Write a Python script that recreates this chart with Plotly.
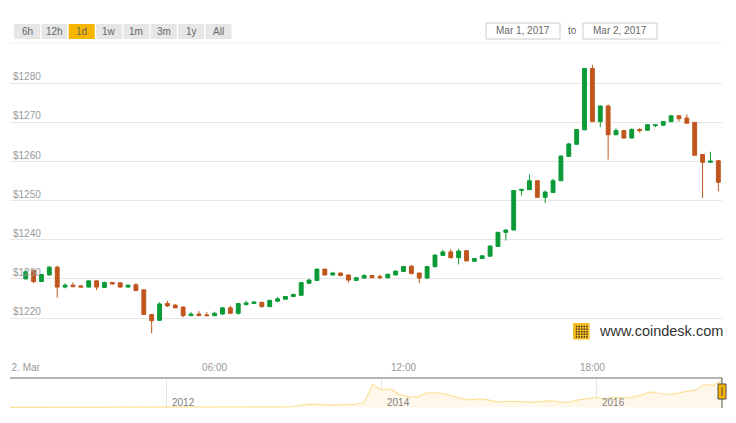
import plotly.graph_objects as go
import pandas as pd

# ---------------- data ----------------
candle_start = "2017-03-02 00:00"
candle_step = "15min"
candle_open = [
    1230.0, 1232.2, 1229.3, 1231.0, 1233.0, 1227.9, 1228.4, 1228.2, 1227.9, 1229.5,
    1227.8, 1229.1, 1229.0, 1227.9, 1228.5, 1227.2, 1220.9, 1219.4, 1223.7, 1223.3,
    1222.8, 1220.6, 1221.0, 1220.8, 1220.6, 1221.0, 1222.6, 1221.2, 1223.4, 1223.7,
    1224.0, 1222.9, 1224.3, 1224.8, 1225.5, 1225.8, 1228.9, 1229.6, 1232.5, 1231.0,
    1231.5, 1231.0, 1229.6, 1230.2, 1230.85, 1230.6, 1230.3, 1231.0, 1231.9, 1233.25,
    1231.5, 1230.2, 1233.1, 1236.0, 1236.9, 1235.4, 1237.2, 1234.5, 1235.2, 1235.8,
    1238.3, 1241.9, 1242.5, 1252.6, 1252.8, 1255.1, 1250.85, 1252.1, 1255.1, 1261.3,
    1264.4, 1268.1, 1283.8, 1270.2, 1274.2, 1266.85, 1267.95, 1266.0, 1268.2, 1268.0,
    1269.15, 1269.3, 1270.2, 1271.7, 1271.1, 1270.0, 1261.8, 1259.8, 1260.2,
]
candle_high = [
    1232.3, 1232.3, 1231.3, 1233.3, 1233.4, 1228.9, 1229.1, 1228.4, 1229.6, 1229.6,
    1229.3, 1229.2, 1229.1, 1228.5, 1228.9, 1227.3, 1221.0, 1224.0, 1224.4, 1223.6,
    1222.9, 1221.5, 1221.8, 1221.5, 1221.6, 1222.7, 1223.1, 1223.8, 1224.4, 1224.3,
    1224.2, 1224.7, 1225.4, 1225.6, 1226.3, 1229.2, 1230.0, 1232.6, 1232.6, 1231.8,
    1231.6, 1231.1, 1230.4, 1231.2, 1230.95, 1231.1, 1231.3, 1232.1, 1233.2, 1233.5,
    1231.6, 1233.2, 1236.2, 1237.4, 1237.6, 1237.7, 1237.4, 1235.3, 1236.0, 1238.5,
    1242.0, 1242.6, 1252.7, 1253.0, 1256.7, 1255.2, 1252.6, 1255.6, 1261.5, 1264.8,
    1268.3, 1283.9, 1284.7, 1274.3, 1274.6, 1268.5, 1268.0, 1268.5, 1268.5, 1269.5,
    1269.5, 1270.3, 1271.8, 1271.8, 1272.05, 1270.1, 1261.9, 1262.5, 1260.3,
]
candle_low = [
    1229.8, 1228.9, 1229.2, 1230.9, 1225.2, 1227.6, 1227.9, 1227.8, 1227.8, 1227.1,
    1227.7, 1228.5, 1227.8, 1227.8, 1226.9, 1220.8, 1216.1, 1219.3, 1222.8, 1222.5,
    1220.2, 1220.5, 1220.5, 1220.5, 1220.5, 1220.9, 1221.1, 1220.85, 1223.3, 1223.6,
    1222.7, 1222.8, 1224.1, 1224.7, 1225.4, 1225.7, 1228.8, 1229.5, 1230.9, 1230.9,
    1230.7, 1229.05, 1229.5, 1230.1, 1230.2, 1229.9, 1230.05, 1230.9, 1231.8, 1231.1,
    1228.9, 1230.1, 1233.0, 1235.9, 1235.3, 1233.7, 1234.5, 1234.4, 1235.1, 1235.7,
    1238.2, 1239.8, 1242.4, 1251.3, 1252.7, 1250.7, 1249.4, 1252.0, 1255.0, 1261.2,
    1264.3, 1268.0, 1270.1, 1268.8, 1260.5, 1266.7, 1265.9, 1265.9, 1267.4, 1267.9,
    1268.8, 1269.0, 1270.1, 1270.25, 1269.7, 1261.5, 1250.7, 1259.7, 1252.4,
]
candle_close = [
    1231.8, 1229.3, 1231.1, 1233.0, 1227.9, 1228.4, 1228.0, 1227.9, 1229.5, 1227.9,
    1229.1, 1228.7, 1227.9, 1228.4, 1227.0, 1220.9, 1219.3, 1223.6, 1223.1, 1222.6,
    1220.6, 1221.0, 1220.6, 1220.6, 1221.2, 1222.6, 1221.2, 1223.7, 1223.85, 1224.1,
    1222.9, 1224.5, 1224.9, 1225.5, 1226.0, 1229.05, 1229.7, 1232.5, 1231.0, 1231.5,
    1230.85, 1229.7, 1230.3, 1230.85, 1230.3, 1230.3, 1231.2, 1232.0, 1233.15, 1231.4,
    1230.2, 1233.15, 1236.1, 1236.9, 1235.4, 1237.1, 1234.6, 1235.2, 1235.9, 1238.4,
    1241.9, 1242.5, 1252.6, 1252.9, 1255.1, 1250.85, 1252.2, 1255.1, 1261.4, 1264.5,
    1268.2, 1283.8, 1270.2, 1274.2, 1266.85, 1267.95, 1266.0, 1268.2, 1267.9, 1269.4,
    1269.4, 1270.25, 1271.7, 1270.95, 1269.8, 1261.6, 1259.8, 1260.1, 1254.7,
]

y_tick_values = [1220, 1230, 1240, 1250, 1260, 1270, 1280]
y_tick_labels = ["$1220", "$1230", "$1240", "$1250", "$1260", "$1270", "$1280"]
x_tick_values = ["2017-03-02 00:00", "2017-03-02 06:00", "2017-03-02 12:00", "2017-03-02 18:00"]
x_tick_labels = ["2. Mar", "06:00", "12:00", "18:00"]
x_view = ["2017-03-01 23:30", "2017-03-02 22:07"]

# navigator: month-start prices, 2010-07 .. 2017-03, plus the last point
nav_start = "2010-07-01"
nav_values = [
    0.05, 0.07, 0.06, 0.06, 0.19, 0.21,
    0.30, 0.9, 0.86, 0.78, 3.5, 8.7, 16.1, 13.4, 8.2, 5.1, 3.2, 2.9,
    4.7, 5.5, 4.9, 4.9, 5.0, 5.1, 6.7, 9.1, 10.1, 12.4, 11.2, 12.6,
    13.5, 20.4, 33.4, 93, 139, 128, 97, 106, 135, 133, 200, 1000,
    770, 800, 560, 470, 450, 630, 640, 590, 480, 380, 325, 380,
    315, 225, 260, 245, 235, 225, 260, 280, 230, 238, 325, 378,
    432, 375, 435, 416, 450, 535, 675, 620, 575, 610, 700, 745,
    1000, 970, 1190,
]
nav_last_date = "2017-03-02"
nav_last_value = 1255
nav_view = ["2010-07-17", "2017-03-02"]
nav_year_ticks = ["2012-01-01", "2014-01-01", "2016-01-01"]
nav_year_labels = ["2012", "2014", "2016"]

range_buttons = ["6h", "12h", "1d", "1w", "1m", "3m", "1y", "All"]
selected_button = "1d"
date_from = "Mar 1, 2017"
date_to = "Mar 2, 2017"
brand_text = "www.coindesk.com"

# ---------------- geometry ----------------
W, H = 736, 423
ML, MR, MT, MB = 10, 14, 48, 15
PW, PH = W - ML - MR, H - MT - MB
MAIN_BOTTOM = 352
NAV_TOP = 378


def px(X):
    return (X - ML) / PW


def py(Y):
    return (H - MB - Y) / PH


FONT = "Liberation Sans, Arial, sans-serif"
GREEN = "#0a9b37"
ORANGE = "#c0561d"

times = pd.date_range(candle_start, periods=len(candle_open), freq=candle_step)
nav_dates = list(pd.date_range(nav_start, periods=len(nav_values), freq="MS")) + [pd.Timestamp(nav_last_date)]
nav_y = nav_values + [nav_last_value]

fig = go.Figure()
fig.add_trace(go.Candlestick(
    x=times, open=candle_open, high=candle_high, low=candle_low, close=candle_close,
    increasing=dict(fillcolor=GREEN, line=dict(color=GREEN, width=1)),
    decreasing=dict(fillcolor=ORANGE, line=dict(color=ORANGE, width=1)),
    whiskerwidth=0, showlegend=False, hoverinfo="skip",
))
fig.add_trace(go.Scatter(
    x=nav_dates, y=nav_y, xaxis="x2", yaxis="y2", mode="lines",
    line=dict(color="#fce19a", width=1.2), fill="tozeroy", fillcolor="#fff8ea",
    showlegend=False, hoverinfo="skip",
))

shapes = []
annotations = []

# y-axis labels above gridlines
for v, t in zip(y_tick_values, y_tick_labels):
    annotations.append(dict(x=0, xref="paper", y=v, yref="y", text=t, showarrow=False,
                            xanchor="left", yanchor="bottom", xshift=1, yshift=-1,
                            font=dict(family=FONT, size=10, color="#999999")))

# navigator year labels
for d, t in zip(nav_year_ticks, nav_year_labels):
    annotations.append(dict(x=d, xref="x2", y=py(402), yref="paper", text=t, showarrow=False,
                            xanchor="left", yanchor="middle", xshift=3,
                            font=dict(family=FONT, size=10, color="#808080")))

# navigator outline and handle
shapes.append(dict(type="line", xref="paper", yref="paper", x0=0, x1=1, y0=py(NAV_TOP), y1=py(NAV_TOP),
                   line=dict(color="#b3b3b3", width=2)))
shapes.append(dict(type="line", xref="paper", yref="paper", x0=px(722), x1=px(722), y0=py(NAV_TOP), y1=py(408),
                   line=dict(color="#555555", width=1)))
shapes.append(dict(type="rect", xref="paper", yref="paper", x0=px(718), x1=px(726), y0=py(399), y1=py(384),
                   fillcolor="#f7b500", line=dict(color="#4d4d4d", width=1)))
shapes.append(dict(type="line", xref="paper", yref="paper", x0=px(722), x1=px(722), y0=py(396), y1=py(387),
                   line=dict(color="#4d4d4d", width=1)))

# range selector buttons
BX0, BSTEP, BW_, BY0, BY1 = 14, 27.35, 26, 24, 39
for i, lab in enumerate(range_buttons):
    x0 = BX0 + i * BSTEP
    sel = lab == selected_button
    shapes.append(dict(type="rect", xref="paper", yref="paper", x0=px(x0), x1=px(x0 + BW_),
                       y0=py(BY1), y1=py(BY0), fillcolor="#f7b500" if sel else "#e6e6e6",
                       line=dict(width=0)))
    annotations.append(dict(x=px(x0 + BW_ / 2), y=py((BY0 + BY1) / 2), xref="paper", yref="paper",
                            text=lab, showarrow=False, xanchor="center", yanchor="middle",
                            font=dict(family=FONT, size=10, color="#666666")))

# thin line under the toolbar
shapes.append(dict(type="line", xref="paper", yref="paper", x0=0, x1=1, y0=py(43), y1=py(43),
                   line=dict(color="#f0f0f0", width=1)))

# date inputs
for (x0, x1), txt in zip([(486, 560), (583, 657)], [date_from, date_to]):
    shapes.append(dict(type="rect", xref="paper", yref="paper", x0=px(x0), x1=px(x1),
                       y0=py(39), y1=py(23), fillcolor="white", line=dict(color="#cccccc", width=1)))
    annotations.append(dict(x=px((x0 + x1) / 2), y=py(31), xref="paper", yref="paper", text=txt,
                            showarrow=False, xanchor="center", yanchor="middle",
                            font=dict(family=FONT, size=10, color="#666666")))
annotations.append(dict(x=px(572.5), y=py(31), xref="paper", yref="paper", text="to", showarrow=False,
                        xanchor="center", yanchor="middle", font=dict(family=FONT, size=10, color="#666666")))

# brand logo
shapes.append(dict(type="rect", xref="paper", yref="paper", x0=px(573), x1=px(589.5), y0=py(339.5), y1=py(323),
                   fillcolor="#f6bd22", line=dict(width=0)))
for r in range(5):
    for c in range(5):
        cx = 575.8 + c * 2.6
        cy = 325.8 + r * 2.6
        shapes.append(dict(type="rect", xref="paper", yref="paper", x0=px(cx), x1=px(cx + 1.5),
                           y0=py(cy + 1.5), y1=py(cy), fillcolor="#3a3020", line=dict(width=0)))
annotations.append(dict(x=px(596.5), y=py(331), xref="paper", yref="paper", text=brand_text, showarrow=False,
                        xanchor="left", yanchor="middle", font=dict(family=FONT, size=14.5, color="#333333")))

fig.update_layout(
    width=W, height=H, margin=dict(l=ML, r=MR, t=MT, b=MB),
    paper_bgcolor="white", plot_bgcolor="white",
    shapes=shapes, annotations=annotations, showlegend=False, boxgap=0.3,
    xaxis=dict(domain=[0, 1], anchor="y", range=x_view, rangeslider=dict(visible=False),
               tickvals=x_tick_values, ticktext=x_tick_labels, showgrid=False, zeroline=False,
               showline=False, ticks="", ticklabelstandoff=8,
               tickfont=dict(family=FONT, size=10, color="#999999")),
    yaxis=dict(domain=[py(MAIN_BOTTOM), 1], range=[1211.31, 1289.02], tickvals=y_tick_values,
               showticklabels=False, showgrid=True, gridcolor="#e6e6e6", gridwidth=1, zeroline=False),
    xaxis2=dict(domain=[0, 1], anchor="y2", range=nav_view, tickvals=nav_year_ticks, showticklabels=False,
                showgrid=True, gridcolor="#e6e6e6", zeroline=False, showline=False, ticks=""),
    yaxis2=dict(domain=[0, py(NAV_TOP)], range=[-30, 1290], visible=False, showgrid=False),
)

fig.write_html("out.html")
